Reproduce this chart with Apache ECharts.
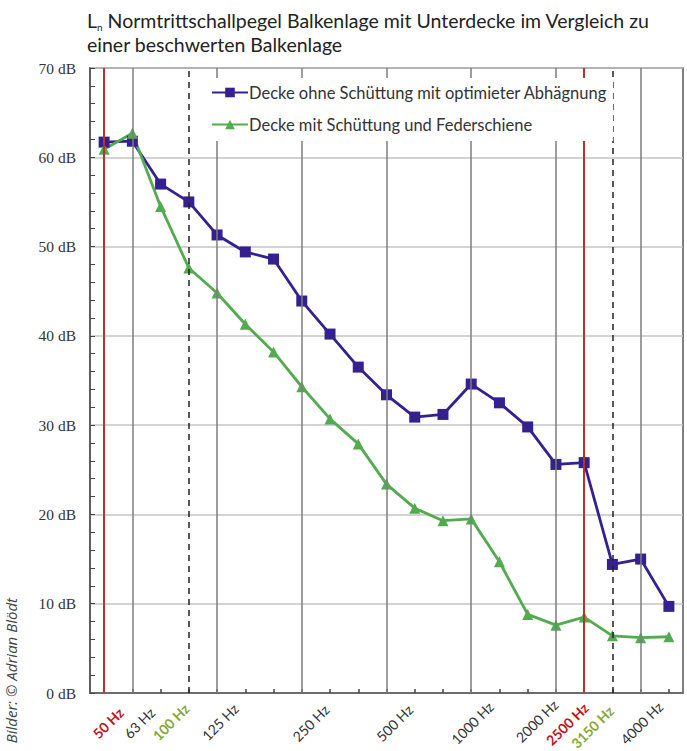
<!DOCTYPE html>
<html>
<head>
<meta charset="utf-8">
<script src="https://cdn.jsdelivr.net/npm/echarts@6/dist/echarts.min.js"></script>
<style>
  html, body { margin: 0; padding: 0; background: #fff; }
  #chart { width: 687px; height: 751px; }
</style>
</head>
<body>
<div id="chart"></div>
<script>
// Terzbänder (Hz)
const frequencies = ['50', '63', '80', '100', '125', '160', '200', '250', '315', '400', '500',
  '630', '800', '1000', '1250', '1600', '2000', '2500', '3150', '4000', '5000'];
// Decke ohne Schüttung mit optimieter Abhägnung
const ohneSchuettung = [61.7, 61.8, 57.0, 55.0, 51.3, 49.4, 48.6, 43.9, 40.2, 36.5, 33.4,
  30.9, 31.2, 34.6, 32.5, 29.8, 25.6, 25.8, 14.4, 15.0, 9.7];
// Decke mit Schüttung und Federschiene
const mitSchuettung = [60.9, 62.7, 54.5, 47.6, 44.8, 41.3, 38.2, 34.3, 30.7, 27.9, 23.4,
  20.7, 19.3, 19.5, 14.7, 8.8, 7.6, 8.5, 6.4, 6.2, 6.3];
const shownLabels = ['50', '63', '100', '125', '250', '500', '1000', '2000', '2500', '3150', '4000'];
const redLabels = ['50', '2500'];
const greenLabels = ['100', '3150'];
const octaveLines = ['63', '125', '250', '500', '1000', '2000', '4000'];
const redLines = ['50', '2500'];
const dashedLines = ['100', '3150'];

// rotated x labels: nudge of the label centre relative to its tick (as in the original)
const labelNudge = {
  '50': [4, 30], '63': [7, 30], '100': [-18, 29], '125': [3, 29], '250': [9, 30],
  '500': [8, 30], '1000': [1, 30], '2000': [-19, 28], '2500': [-17, 31], '3150': [-20, 34], '4000': [1, 30]
};

const chart = echarts.init(document.getElementById('chart'), null, { renderer: 'svg' });

function vline(f, style) {
  return { xAxis: f, lineStyle: style };
}
const markData = []
  .concat(octaveLines.map(f => vline(f, { color: '#7c7c7c', width: 1.5, type: 'solid' })))
  .concat(redLines.map(f => vline(f, { color: '#b8322a', width: 2, type: 'solid' })))
  .concat(dashedLines.map(f => vline(f, { color: '#222', width: 1.5, type: [6, 5] })));

const watermark = {
  type: 'text',
  id: 'watermark',
  x: 3,
  y: 598,
  rotation: Math.PI / 2,
  style: {
    text: 'Bilder: © Adrian Blödt',
    font: 'italic 15px "Open Sans"',
    fill: '#444',
    align: 'right',
    verticalAlign: 'top'
  }
};

const option = {
  animation: false,
  title: {
    left: 82,
    top: 3,
    text: '{a|L}{sub|n}{a| Normtrittschallpegel Balkenlage mit Unterdecke im Vergleich zu}\n{a|einer beschwerten Balkenlage}',
    textStyle: {
      fontWeight: 'normal',
      rich: {
        a: { fontFamily: 'Lato', fontSize: 19.5, fontWeight: 'normal', color: '#222', lineHeight: 24 },
        sub: { fontFamily: 'Lato', fontSize: 10, fontWeight: 'normal', color: '#222', lineHeight: 24, verticalAlign: 'bottom', padding: [9, 0, 0, 0] }
      }
    }
  },
  grid: {
    left: 90, right: 4, top: 68, bottom: 58,
    show: true, borderColor: '#555', borderWidth: 1.5, backgroundColor: '#fff'
  },
  legend: {
    left: 205, top: 78,
    z: 10,
    orient: 'vertical',
    itemGap: 15,
    itemWidth: 36, itemHeight: 12,
    backgroundColor: '#fff',
    padding: [6, 6, 8, 6],
    data: ['Decke ohne Schüttung mit optimieter Abhägnung', 'Decke mit Schüttung und Federschiene'],
    textStyle: { fontFamily: 'Lato', fontSize: 16.5, color: '#333', padding: [0, 0, 0, -4] }
  },
  xAxis: {
    type: 'category',
    data: frequencies,
    boundaryGap: true,
    axisLine: { lineStyle: { color: '#555', width: 1.5 } },
    axisTick: { show: true, inside: true, alignWithLabel: true, interval: 0, length: 4, lineStyle: { color: '#444', width: 1.5 } },
    splitLine: { show: false },
    axisLabel: { show: false }
  },
  yAxis: {
    type: 'value',
    min: 0, max: 70, interval: 10,
    axisLine: { show: true, lineStyle: { color: '#555', width: 1.5 } },
    axisTick: { show: true, inside: true, length: 5, lineStyle: { color: '#444' } },
    minorTick: { show: true, splitNumber: 5, length: 5, lineStyle: { color: '#444' } },
    splitLine: { show: true, lineStyle: { color: '#c4c4c4', width: 1.5 } },
    axisLabel: {
      fontFamily: 'Liberation Serif', fontSize: 15.5, color: '#333', margin: 14,
      formatter: '{value} dB'
    }
  },
  series: [
    {
      name: 'lines',
      type: 'line',
      data: [],
      z: 1,
      silent: true,
      markLine: {
        symbol: ['none', 'none'],
        label: { show: false },
        silent: true,
        animation: false,
        data: markData
      }
    },
    {
      name: 'Decke ohne Schüttung mit optimieter Abhägnung',
      type: 'line',
      data: ohneSchuettung,
      z: 3,
      symbol: 'rect',
      symbolSize: 11,
      lineStyle: { color: '#35208f', width: 2.8 },
      itemStyle: { color: '#35208f' }
    },
    {
      name: 'Decke mit Schüttung und Federschiene',
      type: 'line',
      data: mitSchuettung,
      z: 3,
      symbol: 'triangle',
      symbolSize: 11,
      lineStyle: { color: '#52ab4f', width: 2.8 },
      itemStyle: { color: '#52ab4f' }
    }
  ],
  graphic: [watermark]
};

chart.setOption(option);

// 45° frequency labels, placed at the category ticks of the x axis
function buildLabels() {
  const labels = shownLabels.map(f => {
    const p = chart.convertToPixel({ gridIndex: 0 }, [f, 0]);
    const n = labelNudge[f] || [0, 30];
    const isRed = redLabels.indexOf(f) >= 0;
    const isGreen = greenLabels.indexOf(f) >= 0;
    return {
      type: 'text',
      id: 'xl' + f,
      x: p[0] + n[0],
      y: p[1] + n[1],
      rotation: Math.PI / 4,
      silent: true,
      style: {
        text: f + ' Hz',
        font: ((isRed || isGreen) ? 'bold ' : '') + '14px Lato',
        fill: isRed ? '#c0141c' : (isGreen ? '#86a832' : '#333'),
        align: 'center',
        verticalAlign: 'middle'
      }
    };
  });
  chart.setOption({ graphic: [watermark].concat(labels) });
}
buildLabels();
window.addEventListener('resize', () => { chart.resize(); buildLabels(); });
</script>
</body>
</html>
